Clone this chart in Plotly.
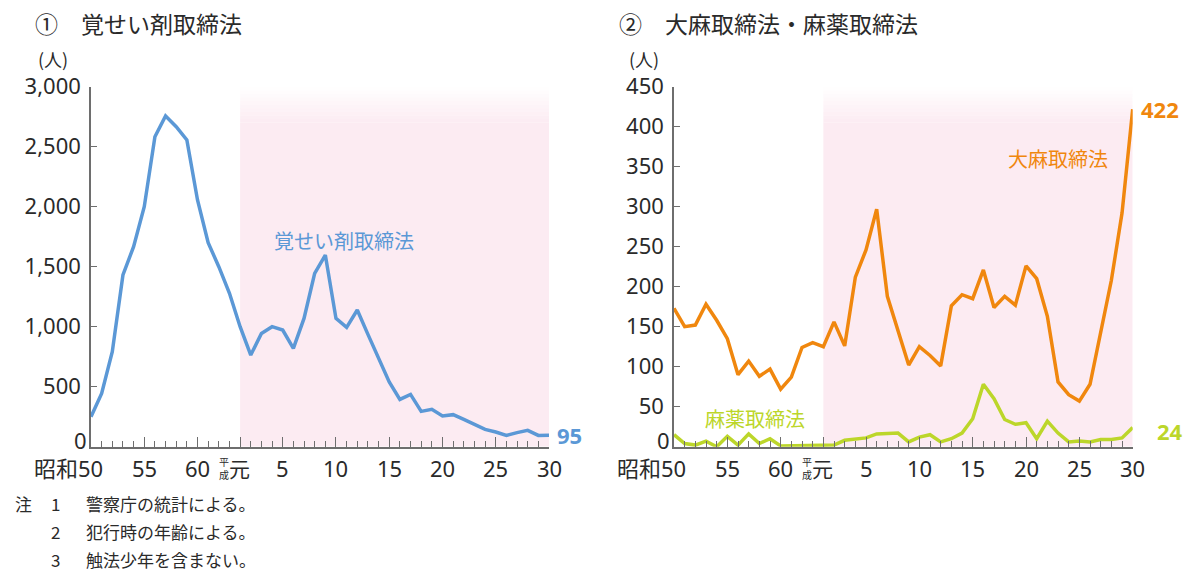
import plotly.graph_objects as go

# ---------------- data ----------------
years = list(range(1975, 2019))
meth = [250, 444, 792, 1431, 1667, 2000, 2583, 2756, 2667, 2556,
        2056, 1700, 1500, 1278, 1000, 764, 944, 1000, 972, 819,
        1069, 1444, 1597, 1069, 994, 1139, 936, 731, 539, 394,
        436, 294, 311, 256, 267, 228, 183, 144, 122, 94,
        117, 136, 94, 95]
cannabis = [173, 150, 152, 178, 158, 135, 90, 107, 88, 97,
            72, 87, 124, 130, 125, 156, 126, 212, 246, 297,
            188, 146, 102, 125, 114, 101, 176, 190, 185, 221,
            174, 188, 177, 226, 210, 163, 81, 65, 57, 78,
            142, 208, 292, 422]
narcotics = [15, 4, 2, 7, 0, 13, 2, 16, 4, 10,
             1, 1, 1, 1, 1, 2, 8, 9, 11, 16,
             17, 17, 6, 12, 15, 6, 10, 17, 35, 78,
             60, 34, 28, 30, 10, 32, 17, 6, 7, 6,
             9, 9, 11, 24]
xtick_years = [1975, 1980, 1985, 1989, 1993, 1998, 2003, 2008, 2013, 2018]
xtick_labels = ["昭和50", "55", "60", "平成元", "5", "10", "15", "20", "25", "30"]
heisei_start = 1989
left_ticks = [0, 500, 1000, 1500, 2000, 2500, 3000]
right_ticks = [0, 50, 100, 150, 200, 250, 300, 350, 400, 450]
notes = [("注", "1", "警察庁の統計による。"),
         ("", "2", "犯行時の年齢による。"),
         ("", "3", "触法少年を含まない。")]

# ---------------- style ----------------
W, H = 1189, 572
BLUE = "#5b98d6"
ORANGE = "#f0870e"
GREEN = "#bcd62a"
PINK = "#fcebf2"
AXIS = "#6e6e6e"
TXT = "#2a2a2a"
FONT = "Noto Sans, Noto Sans CJK JP"
JFONT = "Noto Sans CJK JP"

def px(x):
    return x / W

def py(y):
    return (H - y) / H

y_top, y_bot = 86.7, 446.7
L_x0, L_x1 = 91, 549
R_x0, R_x1 = 674, 1132.7
XLAB_Y = 468

fig = go.Figure()
fig.add_trace(go.Scatter(x=years, y=meth, mode="lines", xaxis="x", yaxis="y",
                         line=dict(color=BLUE, width=3.5), showlegend=False))
fig.add_trace(go.Scatter(x=years, y=cannabis, mode="lines", xaxis="x2", yaxis="y2",
                         line=dict(color=ORANGE, width=3.5), showlegend=False))
fig.add_trace(go.Scatter(x=years, y=narcotics, mode="lines", xaxis="x2", yaxis="y2",
                         line=dict(color=GREEN, width=3.5), showlegend=False))

def xaxis_cfg(dom):
    return dict(domain=dom, range=[years[0], years[-1]], showline=True,
                linecolor=AXIS, linewidth=1.5, ticks="inside", ticklen=10,
                tickwidth=1.3, tickcolor=AXIS, tickmode="array",
                tickvals=xtick_years, showticklabels=False, showgrid=False,
                zeroline=False, fixedrange=True, automargin=False,
                minor=dict(ticks="inside", ticklen=6, tickwidth=1.2,
                           tickcolor=AXIS, dtick=1, tick0=years[0], showgrid=False))

def yaxis_cfg(anchor, rng, ticks):
    # the "0" label is drawn separately, slightly raised as in the original
    text = [""] + [f"{t:,}" for t in ticks[1:]]
    return dict(domain=[py(y_bot), py(y_top)], anchor=anchor, range=rng,
                showline=True, linecolor=AXIS, linewidth=1.5, ticks="inside",
                ticklen=6, tickwidth=1.3, tickcolor=AXIS, tickmode="array",
                tickvals=ticks, ticktext=text, showgrid=False, zeroline=False,
                ticklabelstandoff=4, automargin=False,
                tickfont=dict(size=22, color=TXT, family=FONT), fixedrange=True)

fig.update_layout(
    width=W, height=H, autosize=False,
    margin=dict(l=0, r=0, t=0, b=0, pad=0, autoexpand=False),
    paper_bgcolor="white", plot_bgcolor="rgba(0,0,0,0)",
    font=dict(family=FONT, color=TXT),
    xaxis=xaxis_cfg([px(L_x0), px(L_x1)]) | dict(anchor="y"),
    yaxis=yaxis_cfg("x", [0, left_ticks[-1]], left_ticks),
    xaxis2=xaxis_cfg([px(R_x0), px(R_x1)]) | dict(anchor="y2"),
    yaxis2=yaxis_cfg("x2", [0, right_ticks[-1]], right_ticks),
)

# pink Heisei background with fade at top
shapes = []
for xr, yr, top in (("x", "y", left_ticks[-1]), ("x2", "y2", right_ticks[-1])):
    solid = top * 0.9
    shapes.append(dict(type="rect", xref=xr, yref=yr, x0=heisei_start, x1=years[-1],
                       y0=0, y1=solid, fillcolor=PINK, line=dict(width=0), layer="below"))
    n = 10
    for i in range(n):
        a = 1 - (i + 0.5) / n
        shapes.append(dict(type="rect", xref=xr, yref=yr, x0=heisei_start, x1=years[-1],
                           y0=solid + (top - solid) * i / n,
                           y1=solid + (top - solid) * (i + 1) / n,
                           fillcolor=PINK, opacity=a, line=dict(width=0), layer="below"))
fig.update_layout(shapes=shapes)

ann = []
# titles
ann.append(dict(x=px(33), y=py(23), xref="paper", yref="paper", xanchor="left", yanchor="middle",
                text="①　覚せい剤取締法", showarrow=False,
                font=dict(family=JFONT, size=23, color=TXT)))
ann.append(dict(x=px(617), y=py(23), xref="paper", yref="paper", xanchor="left", yanchor="middle",
                text="②　大麻取締法・麻薬取締法", showarrow=False,
                font=dict(family=JFONT, size=23, color=TXT)))
# unit labels
for ux in (36, 627):
    ann.append(dict(x=px(ux), y=py(59), xref="paper", yref="paper", xanchor="left", yanchor="middle",
                    text="(人)", showarrow=False, font=dict(family=JFONT, size=18, color=TXT)))

# raised zero labels on the y axes
for xr, yr in (("x", "y"), ("x2", "y2")):
    ann.append(dict(x=years[0], y=0, xref=xr, yref=yr, xanchor="right", yanchor="middle",
                    xshift=-3, yshift=7, borderpad=0, text="0", showarrow=False,
                    font=dict(family=FONT, size=22, color=TXT)))

# x tick labels
for xr in ("x", "x2"):
    for yv, lab in zip(xtick_years, xtick_labels):
        if lab == "昭和50":
            ann.append(dict(x=yv, y=py(XLAB_Y), xref=xr, yref="paper", xanchor="right", yanchor="middle",
                            xshift=13, borderpad=0, text=lab, showarrow=False,
                            font=dict(family=FONT, size=22, color=TXT)))
        elif lab == "平成元":
            ann.append(dict(x=yv, y=py(XLAB_Y), xref=xr, yref="paper", xanchor="right", yanchor="middle",
                            xshift=11, borderpad=0, text="元", showarrow=False,
                            font=dict(family=JFONT, size=21, color=TXT)))
            ann.append(dict(x=yv, y=py(XLAB_Y), xref=xr, yref="paper", xanchor="right", yanchor="middle",
                            xshift=-10, borderpad=0, text="平<br>成", showarrow=False,
                            font=dict(family=JFONT, size=10, color=TXT)))
        else:
            ann.append(dict(x=yv, y=py(XLAB_Y), xref=xr, yref="paper", xanchor="center", yanchor="middle",
                            borderpad=0, text=lab, showarrow=False,
                            font=dict(family=FONT, size=22, color=TXT)))

# series labels
ann.append(dict(x=px(272), y=py(240), xref="paper", yref="paper", xanchor="left", yanchor="middle",
                text="覚せい剤取締法", showarrow=False, font=dict(family=JFONT, size=20, color=BLUE)))
ann.append(dict(x=px(1006), y=py(158), xref="paper", yref="paper", xanchor="left", yanchor="middle",
                text="大麻取締法", showarrow=False, font=dict(family=JFONT, size=20, color=ORANGE)))
ann.append(dict(x=px(703), y=py(418), xref="paper", yref="paper", xanchor="left", yanchor="middle",
                text="麻薬取締法", showarrow=False, font=dict(family=JFONT, size=20, color=GREEN)))

# end values
ann.append(dict(x=years[-1], y=meth[-1], xref="x", yref="y", xanchor="left", yanchor="middle",
                xshift=6, text=f"<b>{meth[-1]}</b>", showarrow=False,
                font=dict(family=FONT, size=22, color=BLUE)))
ann.append(dict(x=years[-1], y=cannabis[-1], xref="x2", yref="y2", xanchor="left", yanchor="middle",
                xshift=6, text=f"<b>{cannabis[-1]}</b>", showarrow=False,
                font=dict(family=FONT, size=22, color=ORANGE)))
ann.append(dict(x=years[-1], y=narcotics[-1], xref="x2", yref="y2", xanchor="left", yanchor="middle",
                xshift=22, yshift=-3, text=f"<b>{narcotics[-1]}</b>", showarrow=False,
                font=dict(family=FONT, size=22, color=GREEN)))

# notes
for i, (a, n, t) in enumerate(notes):
    yy = py(503 + i * 28)
    if a:
        ann.append(dict(x=px(13), y=yy, xref="paper", yref="paper", xanchor="left", yanchor="middle",
                        text=a, showarrow=False, font=dict(family=JFONT, size=17, color=TXT)))
    ann.append(dict(x=px(49), y=yy, xref="paper", yref="paper", xanchor="left", yanchor="middle",
                    text=n, showarrow=False, font=dict(family=JFONT, size=17, color=TXT)))
    ann.append(dict(x=px(84), y=yy, xref="paper", yref="paper", xanchor="left", yanchor="middle",
                    text=t, showarrow=False, font=dict(family=JFONT, size=17, color=TXT)))

fig.update_layout(annotations=ann)
fig.write_html("out.html")
